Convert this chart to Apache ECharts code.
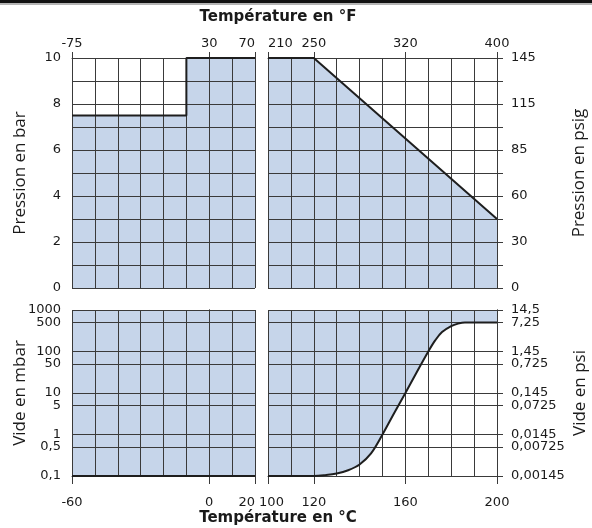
<!DOCTYPE html>
<html>
<head>
<meta charset="utf-8">
<script src="https://cdn.jsdelivr.net/npm/echarts@6/dist/echarts.min.js"></script>
<style>
html, body { margin: 0; padding: 0; background: #fff; }
#chart { width: 592px; height: 528px; }
</style>
</head>
<body>
<div id="chart"></div>
<script>
// limite en pression, plage froide (°C -> bar)
var coldTempC = [-60, -10, -10, 20];
var coldPressBar = [7.5, 7.5, 10, 10];
// limite en pression, plage chaude
var hotTempC = [100, 120, 200];
var hotPressBar = [10, 10, 3];
// limite en vide, plage froide (°C -> mbar)
var coldVacTempC = [-60, 20];
var coldVacMbar = [0.1, 0.1];
// limite en vide, plage chaude
var hotVacTempC = [100, 120, 125, 130, 135, 140, 145, 150, 155, 160, 165, 170, 173, 176, 180, 183, 186, 200];
var hotVacMbar = [0.1, 0.1, 0.105, 0.115, 0.138, 0.19, 0.35, 1, 3.2, 10, 32, 100, 185, 295, 410, 470, 500, 500];

// graduations
var coldTicksC = [-60, 0, 20];
var coldTicksF = ['-75', '30', '70'];
var coldLabelsC = ['-60', '0', '20'];
var hotTicksC = [100, 120, 160, 200];
var hotTicksF = ['210', '250', '320', '400'];
var hotLabelsC = ['{s|100}', '120', '160', '200'];
var barTicks = [0, 2, 4, 6, 8, 10];
var barLabels = ['0', '2', '4', '6', '8', '10'];
var psigLabels = ['0', '30', '60', '85', '115', '145'];
var mbarDecades = [0.1, 1, 10, 100, 1000];
var mbarDecadeLabels = ['0,1', '1', '10', '100', '1000'];
var psiDecadeLabels = ['0,00145', '0,0145', '0,145', '1,45', '14,5'];
var mbarHalves = [0.5, 5, 50, 500];
var mbarHalfLabels = ['0,5', '5', '50', '500'];
var psiHalfLabels = ['0,00725', '0,0725', '0,725', '7,25'];

var blue = '#c6d5ea';
var gridColor = '#3a3a3a';
var textColor = '#1a1a1a';
var font = 'DejaVu Sans';

// retrouve le libellé d'une graduation
function pick(ticks, labels, v) {
    for (var i = 0; i < ticks.length; i++) {
        if (Math.abs(ticks[i] - v) <= Math.abs(ticks[i]) * 1e-5 + 1e-9) {
            return labels[i];
        }
    }
    return '';
}

function zip(xs, ys) {
    var out = [];
    for (var i = 0; i < xs.length; i++) {
        out.push([xs[i], ys[i]]);
    }
    return out;
}

// axe X qui ne sert qu'au quadrillage
function gridX(gridIndex, min, max, pos) {
    return {
        type: 'value', gridIndex: gridIndex, min: min, max: max, interval: 10, position: pos, z: 2,
        axisLine: { show: false }, axisTick: { show: false }, axisLabel: { show: false },
        splitLine: { show: true, lineStyle: { color: gridColor, width: 1 } }
    };
}

// axe X avec les libellés
function labelX(gridIndex, min, max, pos, ticks, labels, tickLen, margin, alignMin, alignMax) {
    return {
        type: 'value', gridIndex: gridIndex, min: min, max: max, position: pos, z: 2,
        axisLine: { show: true, lineStyle: { color: gridColor, width: 1 } },
        axisTick: { show: true, customValues: ticks, length: tickLen, lineStyle: { color: gridColor, width: 1 } },
        axisLabel: {
            customValues: ticks, margin: margin, color: textColor, fontFamily: font, fontSize: 13,
            showMinLabel: true, showMaxLabel: true,
            alignMinLabel: alignMin, alignMaxLabel: alignMax,
            rich: { s: { padding: [0, 0, 0, 7], color: textColor, fontFamily: font, fontSize: 13 } },
            formatter: function (v) { return pick(ticks, labels, v); }
        },
        splitLine: { show: false }
    };
}

// axe Y logarithmique du vide (décades et demi-valeurs sur deux axes superposés)
function vacY(gridIndex, pos, ticks, labels, tickLen, margin) {
    return {
        type: 'log', logBase: 10, gridIndex: gridIndex, position: pos, min: 0.1, max: 1000, z: 2,
        axisLine: { show: true, lineStyle: { color: gridColor, width: 1 } },
        axisTick: { show: true, customValues: ticks, length: tickLen, lineStyle: { color: gridColor, width: 1 } },
        axisLabel: { customValues: ticks, margin: margin, color: textColor, fontFamily: font, fontSize: 13,
            showMinLabel: true, showMaxLabel: true,
            formatter: function (v) { return pick(ticks, labels, v); } },
        splitLine: { show: true, lineStyle: { color: gridColor, width: 1 } }
    };
}

function yName(text, gap) {
    return {
        name: text, nameLocation: 'middle', nameRotate: 90, nameGap: gap,
        nameTextStyle: { fontFamily: 'Open Sans', fontSize: 17, color: textColor }
    };
}

var chart = echarts.init(document.getElementById('chart'));

var option = {
    animation: false,
    backgroundColor: '#fff',
    title: [
        { text: 'Température en °F', left: 278, top: 10, textAlign: 'center', padding: 0,
          textStyle: { fontFamily: font, fontSize: 15, fontWeight: 'bold', color: textColor } },
        { text: 'Température en °C', left: 278, top: 511, textAlign: 'center', padding: 0,
          textStyle: { fontFamily: font, fontSize: 15, fontWeight: 'bold', color: textColor } }
    ],
    graphic: [
        { type: 'rect', shape: { x: 0, y: 0, width: 592, height: 3 }, style: { fill: '#111' } },
        { type: 'rect', shape: { x: 0, y: 3, width: 592, height: 2 }, style: { fill: '#b4b4b4' } }
    ],
    grid: [
        { left: 72, top: 58, width: 183, height: 230, outerBoundsMode: 'none' },
        { left: 268, top: 58, width: 229, height: 230, outerBoundsMode: 'none' },
        { left: 72, top: 310, width: 183, height: 166, outerBoundsMode: 'none' },
        { left: 268, top: 310, width: 229, height: 166, outerBoundsMode: 'none' }
    ],
    xAxis: [
        gridX(0, -60, 20, 'bottom'),
        labelX(0, -60, 20, 'top', coldTicksC, coldTicksF, 6, 8, 'center', 'right'),
        gridX(1, 100, 200, 'bottom'),
        labelX(1, 100, 200, 'top', hotTicksC, hotTicksF, 6, 8, 'left', 'center'),
        gridX(2, -60, 20, 'top'),
        labelX(2, -60, 20, 'bottom', coldTicksC, coldLabelsC, 8, 20, 'center', 'right'),
        gridX(3, 100, 200, 'top'),
        labelX(3, 100, 200, 'bottom', hotTicksC, hotLabelsC, 8, 20, 'center', 'center')
    ],
    yAxis: [
        Object.assign({
            type: 'value', gridIndex: 0, position: 'left', min: 0, max: 10, interval: 1, z: 2,
            axisLine: { show: true, lineStyle: { color: gridColor, width: 1 } },
            axisTick: { show: true, length: 5, lineStyle: { color: gridColor, width: 1 } },
            axisLabel: { margin: 11, color: textColor, fontFamily: font, fontSize: 13,
                formatter: function (v) { return pick(barTicks, barLabels, v); } },
            splitLine: { show: true, lineStyle: { color: gridColor, width: 1 } }
        }, yName('Pression en bar', 43)),
        Object.assign({
            type: 'value', gridIndex: 1, position: 'right', min: 0, max: 10, interval: 1, z: 2,
            axisLine: { show: true, lineStyle: { color: gridColor, width: 1 } },
            axisTick: { show: true, length: 6, lineStyle: { color: gridColor, width: 1 } },
            axisLabel: { margin: 14, color: textColor, fontFamily: font, fontSize: 13,
                formatter: function (v) { return pick(barTicks, psigLabels, v); } },
            splitLine: { show: true, lineStyle: { color: gridColor, width: 1 } }
        }, yName('Pression en psig', 74)),
        Object.assign(vacY(2, 'left', mbarDecades, mbarDecadeLabels, 5, 11), yName('Vide en mbar', 43),
            { nameMoveOverlap: false }),
        vacY(2, 'left', mbarHalves, mbarHalfLabels, 5, 11),
        Object.assign(vacY(3, 'right', mbarDecades, psiDecadeLabels, 6, 14), yName('Vide en psi', 75)),
        vacY(3, 'right', mbarHalves, psiHalfLabels, 6, 14)
    ],
    series: [
        // surfaces bleues
        { type: 'line', xAxisIndex: 0, yAxisIndex: 0, data: zip(coldTempC, coldPressBar), z: 1,
          symbol: 'none', lineStyle: { width: 0 }, areaStyle: { color: blue, opacity: 1, origin: 'start' } },
        { type: 'line', xAxisIndex: 2, yAxisIndex: 1, data: zip(hotTempC, hotPressBar), z: 1,
          symbol: 'none', lineStyle: { width: 0 }, areaStyle: { color: blue, opacity: 1, origin: 'start' } },
        { type: 'line', xAxisIndex: 4, yAxisIndex: 2, data: zip(coldVacTempC, coldVacMbar), z: 1,
          symbol: 'none', lineStyle: { width: 0 }, areaStyle: { color: blue, opacity: 1, origin: 'end' } },
        { type: 'line', xAxisIndex: 6, yAxisIndex: 4, data: zip(hotVacTempC, hotVacMbar), z: 1,
          smooth: 0.35,
          symbol: 'none', lineStyle: { width: 0 }, areaStyle: { color: blue, opacity: 1, origin: 'end' } },
        // courbes limites
        { type: 'line', xAxisIndex: 0, yAxisIndex: 0, data: zip(coldTempC, coldPressBar), z: 3, clip: false,
          symbol: 'none', lineStyle: { width: 2, color: '#1e1e1e' } },
        { type: 'line', xAxisIndex: 2, yAxisIndex: 1, data: zip(hotTempC, hotPressBar), z: 3, clip: false,
          symbol: 'none', lineStyle: { width: 2, color: '#1e1e1e' } },
        { type: 'line', xAxisIndex: 4, yAxisIndex: 2, data: zip(coldVacTempC, coldVacMbar), z: 3, clip: false,
          symbol: 'none', lineStyle: { width: 2, color: '#1e1e1e' } },
        { type: 'line', xAxisIndex: 6, yAxisIndex: 4, data: zip(hotVacTempC, hotVacMbar), z: 3, clip: false,
          smooth: 0.35,
          symbol: 'none', lineStyle: { width: 2, color: '#1e1e1e' } }
    ]
};

chart.setOption(option);
</script>
</body>
</html>
